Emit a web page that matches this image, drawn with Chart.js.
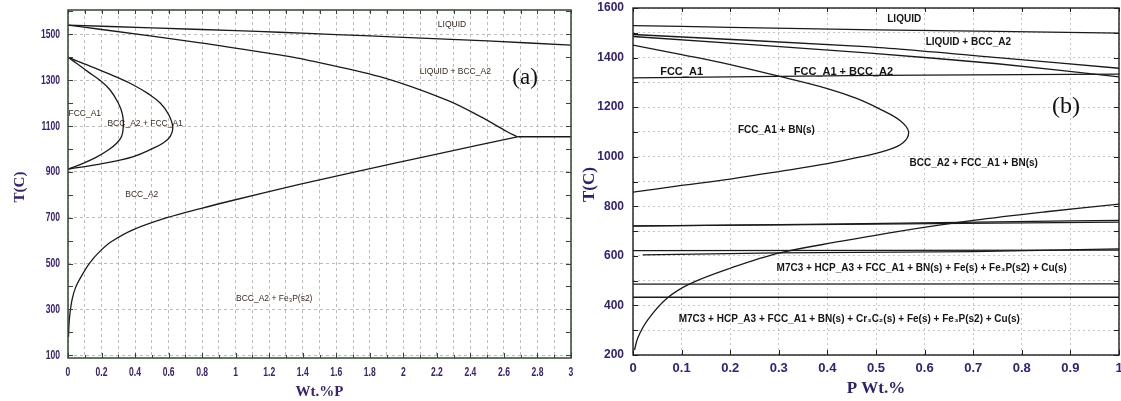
<!DOCTYPE html>
<html lang="en">
<head>
<meta charset="UTF-8">
<title>Fe-P phase diagrams</title>
<script src="https://cdn.jsdelivr.net/npm/chart.js"></script>
<style>
    body { margin: 0; background: #ffffff; }
    #wrap { position: relative; width: 1121px; height: 401px; overflow: hidden; }
    #chartA { position: absolute; left: 0; top: 0; }
    #chartB { position: absolute; left: 580px; top: 0; }
</style>
</head>
<body>
<div id="wrap">
    <canvas id="chartA" width="580" height="401"></canvas>
    <canvas id="chartB" width="541" height="401"></canvas>
</div>
<script>
// ---------- panel (a): Fe-P, 0..3 wt.% P ----------
const aXTickLabels = ['0','0.2','0.4','0.6','0.8','1','1.2','1.4','1.6','1.8','2','2.2','2.4','2.6','2.8','3'];
const aYTickLabels = ['100','300','500','700','900','1100','1300','1500'];

const aLiquidusP = [0, 0.5, 1, 1.26, 1.6, 2, 2.5, 3];
const aLiquidusT = [1540, 1528, 1516, 1509, 1499, 1487, 1471, 1453];

const aSolidusP = [0, 0.19, 0.79, 1.26, 1.38, 1.86, 2.26, 2.46, 2.62, 2.68];
const aSolidusT = [1540, 1522, 1463, 1410, 1395, 1315, 1213, 1141, 1075, 1053];

const aEutecticP = [2.68, 3];
const aEutecticT = [1053, 1053];

const aSolvusP = [0.003, 0.006, 0.012, 0.025, 0.045, 0.08, 0.13, 0.19, 0.26, 0.39, 0.59, 0.79, 0.98, 1.38, 1.7, 2.2, 2.68];
const aSolvusT = [180, 235, 285, 345, 395, 445, 503, 553, 596, 648, 700, 740, 775, 845, 898, 977, 1053];

const aLoopOuterP = [0, 0.09, 0.19, 0.29, 0.39, 0.48, 0.55, 0.6, 0.625, 0.61, 0.57, 0.5, 0.39, 0.29, 0.19, 0.09, 0];
const aLoopOuterT = [1400, 1373, 1344, 1313, 1279, 1240, 1200, 1150, 1095, 1055, 1027, 1000, 966, 948, 934, 922, 912];

const aLoopInnerP = [0, 0.05, 0.12, 0.19, 0.25, 0.3, 0.325, 0.33, 0.32, 0.29, 0.24, 0.17, 0.09, 0];
const aLoopInnerT = [1400, 1374, 1336, 1300, 1258, 1200, 1150, 1100, 1055, 1025, 995, 964, 937, 912];

const aNotes = [
    { text: 'LIQUID', p: 2.29, t: 1541 },
    { text: 'LIQUID + BCC_A2', p: 2.31, t: 1337 },
    { text: 'FCC_A1', p: 0.10, t: 1155 },
    { text: 'BCC_A2 + FCC_A1', p: 0.46, t: 1112 },
    { text: 'BCC_A2', p: 0.44, t: 799 },
    { text: 'BCC_A2 + Fe\u2083P(s2)', p: 1.23, t: 348 }
];

// ---------- panel (b): multicomponent steel, 0..1 wt.% P ----------
const bXTickLabels = ['0','0.1','0.2','0.3','0.4','0.5','0.6','0.7','0.8','0.9','1'];
const bYTickLabels = ['200','400','600','800','1000','1200','1400','1600'];

const bLiquidusP = [0, 0.2, 0.5, 1];
const bLiquidusT = [1529, 1522, 1512, 1499];

const bBccUpperP = [0, 0.488, 0.75, 1];
const bBccUpperT = [1493, 1443, 1400, 1357];

const bBccLowerP = [0, 0.488, 0.75, 1];
const bBccLowerT = [1485, 1418, 1375, 1322];

const bFccBccP = [0, 0.5, 1];
const bFccBccT = [1318, 1328, 1333];

const bBnLoopP = [0, 0.1, 0.2, 0.3, 0.4, 0.46, 0.51, 0.55, 0.567, 0.555, 0.52, 0.47, 0.4, 0.3, 0.2, 0.1, 0];
const bBnLoopT = [1450, 1412, 1372, 1325, 1275, 1235, 1190, 1145, 1100, 1055, 1025, 1000, 972, 940, 910, 884, 857];

const bLine720P = [0, 0.3, 1];
const bLine720T = [721, 725, 736];
const bLine740P = [0, 0.4, 0.9, 1];
const bLine740T = [720, 728, 741, 743];

const bLine620P = [0, 1];
const bLine620T = [621, 623];
const bLine605P = [0.02, 0.3, 0.7, 1];
const bLine605T = [604, 612, 617, 628];

const bLine485P = [0, 1];
const bLine485T = [486, 487];
const bLine433P = [0, 1];
const bLine433T = [433, 433];

const bSolvusP = [0.003, 0.01, 0.03, 0.07, 0.117, 0.2, 0.3, 0.426, 0.55, 0.7, 0.85, 1];
const bSolvusT = [220, 270, 341, 429, 487, 550, 611, 658, 700, 743, 778, 809];

const bNotes = [
    { text: 'LIQUID', p: 0.558, t: 1556 },
    { text: 'LIQUID + BCC_A2', p: 0.690, t: 1462 },
    { text: 'FCC_A1', p: 0.100, t: 1341, big: true },
    { text: 'FCC_A1 + BCC_A2', p: 0.433, t: 1341, big: true },
    { text: 'FCC_A1 + BN(s)', p: 0.295, t: 1105 },
    { text: 'BCC_A2 + FCC_A1 + BN(s)', p: 0.701, t: 975 },
    { text: 'M7C3 + HCP_A3 + FCC_A1 + BN(s) + Fe(s) + Fe\u2083P(s2) + Cu(s)', p: 0.594, t: 550 },
    { text: 'M7C3 + HCP_A3 + FCC_A1 + BN(s) + Cr\u2083C\u2082(s) + Fe(s) + Fe\u2083P(s2) + Cu(s)', p: 0.445, t: 344 }
];

function pts(ps, ts) {
    return ps.map((p, i) => ({ x: p, y: ts[i] }));
}

function curve(ps, ts, tension) {
    return {
        data: pts(ps, ts),
        showLine: true,
        borderColor: '#1a1a1a',
        borderWidth: 1.3,
        pointRadius: 0,
        tension: tension,
        fill: false
    };
}

// draws the box, inward ticks, axis titles and region labels
const framePlugin = {
    id: 'frame',
    afterDatasetsDraw(chart, args, o) {
        const ctx = chart.ctx;
        const a = chart.chartArea;
        const x = chart.scales.x, y = chart.scales.y;
        ctx.save();
        ctx.strokeStyle = o.frameColor;
        ctx.lineWidth = 1;
        ctx.beginPath();
        x.ticks.forEach((t, i) => {
            const px = Math.round(x.getPixelForValue(t.value)) + 0.5;
            const len = (o.xMajorEvery && i % o.xMajorEvery !== 0) ? 3 : 5;
            ctx.moveTo(px, a.bottom); ctx.lineTo(px, a.bottom - len);
            ctx.moveTo(px, a.top); ctx.lineTo(px, a.top + 4);
        });
        y.ticks.forEach(t => {
            const py = Math.round(y.getPixelForValue(t.value)) + 0.5;
            ctx.moveTo(a.left, py); ctx.lineTo(a.left + 5, py);
            ctx.moveTo(a.right, py); ctx.lineTo(a.right - 5, py);
        });
        ctx.stroke();
        ctx.lineWidth = o.frameWidth;
        ctx.strokeRect(a.left, a.top, a.right - a.left, a.bottom - a.top);

        ctx.textAlign = 'center';
        ctx.textBaseline = 'middle';
        o.notes.forEach(n => {
            ctx.font = n.big ? o.bigFont : o.noteFont;
            ctx.fillStyle = o.noteColor;
            ctx.fillText(n.text, x.getPixelForValue(n.p), y.getPixelForValue(n.t));
        });
        ctx.font = o.tagFont;
        ctx.fillStyle = '#111111';
        ctx.fillText(o.tag.text, x.getPixelForValue(o.tag.p), y.getPixelForValue(o.tag.t));

        // condensed tick labels (panel a uses a narrow bold face)
        if (o.squeeze) {
            const q = o.squeeze;
            ctx.save();
            ctx.font = q.font;
            ctx.fillStyle = q.color;
            ctx.scale(q.sx, 1);
            ctx.textAlign = 'center';
            x.ticks.forEach(t => {
                const s = String(Math.round(t.value * 10) / 10);
                if (q.xLabels.includes(s)) ctx.fillText(s, x.getPixelForValue(t.value) / q.sx, a.bottom + q.xGap);
            });
            ctx.textAlign = 'right';
            y.ticks.forEach(t => {
                const s = String(t.value);
                if (q.yLabels.includes(s)) ctx.fillText(s, (a.left - q.yGap) / q.sx, y.getPixelForValue(t.value));
            });
            ctx.restore();
        }

        ctx.font = o.titleFont;
        ctx.fillStyle = o.titleColor;
        ctx.fillText(o.xTitle, (a.left + a.right) / 2, a.bottom + o.xTitleGap);
        ctx.translate(o.yTitleX, (a.top + a.bottom) / 2 + o.yTitleShift);
        ctx.rotate(-Math.PI / 2);
        ctx.fillText('T(C)', 0, 0);
        ctx.restore();
    }
};

function makeChart(id, datasets, s) {
    return new Chart(document.getElementById(id), {
        type: 'scatter',
        data: { datasets: datasets },
        plugins: [framePlugin],
        options: {
            responsive: false,
            animation: false,
            layout: { padding: { top: s.top, right: s.right, left: 0, bottom: 0 } },
            plugins: { legend: { display: false }, tooltip: { enabled: false }, frame: s.frame },
            scales: {
                x: {
                    type: 'linear', min: s.xMin, max: s.xMax,
                    afterBuildTicks: sc => {
                        sc.ticks = [];
                        for (let i = 0; i <= s.xCount; i++) sc.ticks.push({ value: s.xMin + i * s.xStep });
                    },
                    afterFit: sc => { sc.height = s.xHeight; sc.paddingLeft = 0; sc.paddingRight = 0; },
                    grid: { color: s.gridColor, lineWidth: 1, drawTicks: false },
                    border: { display: false, dash: s.dash },
                    ticks: {
                        display: s.libTicks, autoSkip: false, maxRotation: 0, padding: s.xPad,
                        color: s.tickColor, font: s.xFont,
                        callback: v => {
                            const str = String(Math.round(v * 10) / 10);
                            return s.xLabels.includes(str) ? str : '';
                        }
                    }
                },
                y: {
                    type: 'linear', min: s.yMin, max: s.yMax,
                    afterBuildTicks: sc => {
                        sc.ticks = [];
                        for (let v = s.yFirst; v <= s.yMax; v += 100) sc.ticks.push({ value: v });
                    },
                    afterFit: sc => { sc.width = s.yWidth; sc.paddingTop = 0; sc.paddingBottom = 0; },
                    grid: {
                        color: c => (c.tick && (!s.yGridLabeledOnly || s.yLabels.includes(String(c.tick.value)))) ? s.gridColor : 'rgba(0,0,0,0)',
                        lineWidth: 1, drawTicks: false
                    },
                    border: { display: false, dash: s.dash },
                    ticks: {
                        display: s.libTicks, autoSkip: false, padding: s.yPad,
                        color: s.tickColor, font: s.yFont,
                        callback: v => s.yLabels.includes(String(v)) ? String(v) : ''
                    }
                }
            }
        }
    });
}

makeChart('chartA', [
    curve(aLiquidusP, aLiquidusT, 0.3),
    curve(aSolidusP, aSolidusT, 0.35),
    curve(aEutecticP, aEutecticT, 0),
    curve(aSolvusP, aSolvusT, 0.35),
    curve(aLoopOuterP, aLoopOuterT, 0.4),
    curve(aLoopInnerP, aLoopInnerT, 0.4)
], {
    top: 10, right: 9, xHeight: 43, yWidth: 68,
    xMin: 0, xMax: 3, xStep: 0.1, xCount: 30,
    yMin: 88, yMax: 1606, yFirst: 100, yGridLabeledOnly: true,
    xLabels: aXTickLabels, yLabels: aYTickLabels, libTicks: false,
    gridColor: '#bcbcbc', dash: [3, 3],
    tickColor: '#3a2272', xPad: 8, yPad: 8,
    xFont: { size: 11, weight: 'bold' }, yFont: { size: 11, weight: 'bold' },
    frame: {
        frameColor: '#2c4a2e', frameWidth: 1.5, xMajorEvery: 2,
        notes: aNotes, noteFont: '8.5px "Liberation Sans", Arial, sans-serif', bigFont: '8.5px "Liberation Sans", Arial, sans-serif',
        noteColor: '#3b2a1c',
        tag: { text: '(a)', p: 2.726, t: 1309 }, tagFont: '23px "Liberation Serif", serif',
        squeeze: {
            font: 'bold 13px "Liberation Sans", Arial, sans-serif', color: '#3a2272', sx: 0.66,
            xLabels: aXTickLabels, yLabels: aYTickLabels, xGap: 14, yGap: 8
        },
        titleFont: 'bold 15px "Liberation Serif", serif', titleColor: '#3a2272',
        xTitle: 'Wt.%P', xTitleGap: 34, yTitleX: 20, yTitleShift: 3
    }
});

makeChart('chartB', [
    curve(bLiquidusP, bLiquidusT, 0.2),
    curve(bBccUpperP, bBccUpperT, 0.2),
    curve(bBccLowerP, bBccLowerT, 0.2),
    curve(bFccBccP, bFccBccT, 0),
    curve(bBnLoopP, bBnLoopT, 0.4),
    curve(bLine720P, bLine720T, 0),
    curve(bLine740P, bLine740T, 0),
    curve(bLine620P, bLine620T, 0),
    curve(bLine605P, bLine605T, 0),
    curve(bLine485P, bLine485T, 0),
    curve(bLine433P, bLine433T, 0),
    curve(bSolvusP, bSolvusT, 0.35)
], {
    top: 8, right: 2, xHeight: 46, yWidth: 53,
    xMin: 0, xMax: 1, xStep: 0.1, xCount: 10,
    yMin: 200, yMax: 1600, yFirst: 200, yGridLabeledOnly: false,
    xLabels: bXTickLabels, yLabels: bYTickLabels, libTicks: true,
    gridColor: '#c6c6c6', dash: [2, 3],
    tickColor: '#32207a', xPad: 6, yPad: 9,
    xFont: { family: "'Liberation Sans', Arial, sans-serif", size: 13, weight: 'bold' },
    yFont: { family: "'Liberation Sans', Arial, sans-serif", size: 12, weight: 'bold' },
    frame: {
        frameColor: '#1e1e1e', frameWidth: 1.4, xMajorEvery: 0,
        notes: bNotes, noteFont: 'bold 10px "Liberation Sans", Arial, sans-serif', bigFont: 'bold 11px "Liberation Sans", Arial, sans-serif',
        noteColor: '#151515',
        tag: { text: '(b)', p: 0.891, t: 1202 }, tagFont: '24px "Liberation Serif", serif',
        titleFont: 'bold 17px "Liberation Serif", serif', titleColor: '#2f2070',
        xTitle: 'P Wt.%', xTitleGap: 34, yTitleX: 10, yTitleShift: 3
    }
});
</script>
</body>
</html>
